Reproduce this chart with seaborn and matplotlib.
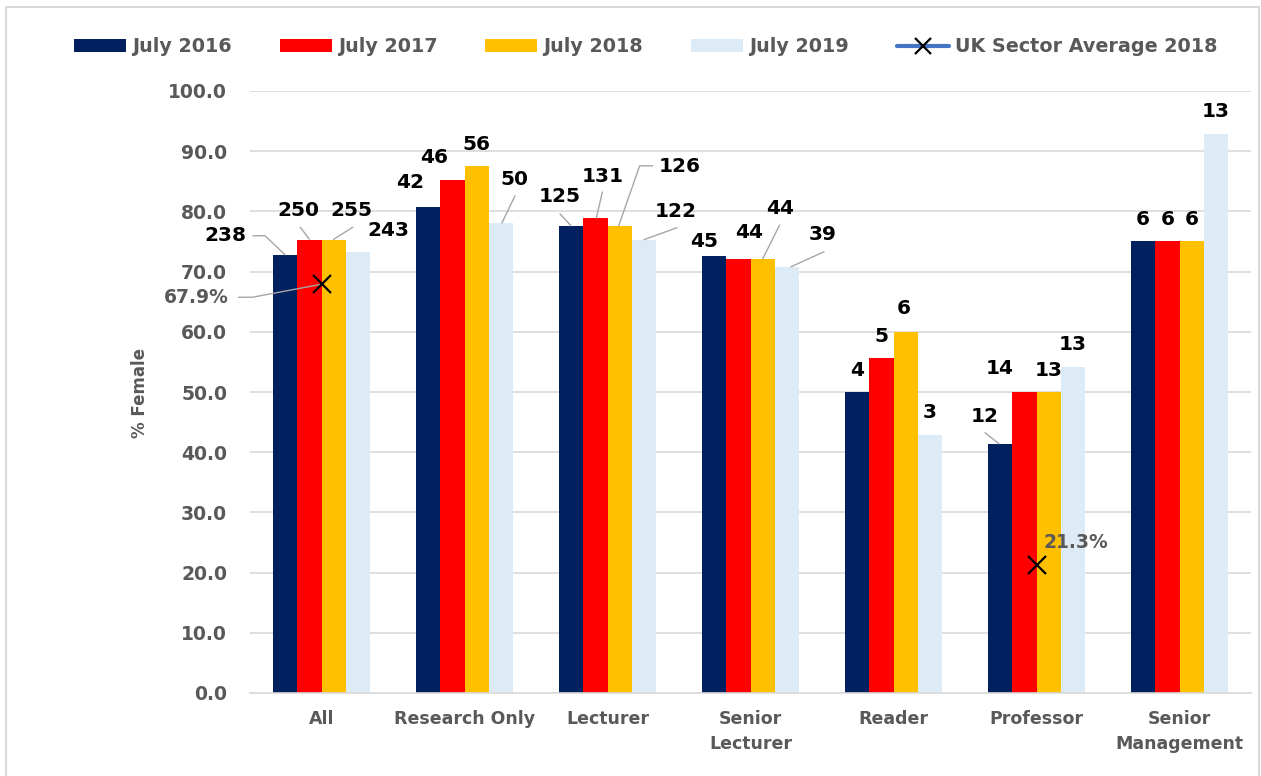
import numpy as np
import pandas as pd
import matplotlib
matplotlib.use("Agg")
import matplotlib.pyplot as plt
from matplotlib.patches import Patch, Rectangle
from matplotlib.lines import Line2D
from matplotlib.ticker import FormatStrFormatter
import seaborn as sns

# ---- data -------------------------------------------------------------
categories = ["All", "Research Only", "Lecturer", "Senior\nLecturer",
              "Reader", "Professor", "Senior\nManagement"]
periods = ["July 2016", "July 2017", "July 2018", "July 2019"]

pct_2016 = [72.8, 80.8, 77.6, 72.6, 50.0, 41.4, 75.0]
pct_2017 = [75.2, 85.2, 78.9, 72.1, 55.6, 50.0, 75.0]
pct_2018 = [75.2, 87.5, 77.6, 72.1, 60.0, 50.0, 75.0]
pct_2019 = [73.3, 78.1, 75.3, 70.8, 42.9, 54.2, 92.9]

count_2016 = [238, 42, 125, 45, 4, 12, 6]
count_2017 = [250, 46, 131, 44, 5, 14, 6]
count_2018 = [255, 56, 126, 44, 6, 13, 6]
count_2019 = [243, 50, 122, 39, 3, 13, 13]

uk_avg_label = "UK Sector Average 2018"
uk_avg_2018 = [67.9, np.nan, np.nan, np.nan, np.nan, 21.3, np.nan]

colors = ["#002060", "#FF0000", "#FFC000", "#DDEBF7"]

pct_series = [pct_2016, pct_2017, pct_2018, pct_2019]
count_series = [count_2016, count_2017, count_2018, count_2019]

df = pd.DataFrame({
    "category": categories * len(periods),
    "period": [p for p in periods for _ in categories],
    "pct": [v for s in pct_series for v in s],
})

# ---- label placement (pixel offsets from each bar top, up is positive) --
DEFAULT_OFF = (0, 22)
label_offsets = {
    (0, 0): (-60, 19), (0, 1): (-11, 30), (0, 2): (18, 30), (0, 3): (30, 21),
    (1, 0): (-18, 24), (1, 1): (-18, 23), (1, 2): (0, 22), (1, 3): (13, 43),
    (2, 0): (-11, 29), (2, 1): (7, 42), (2, 2): (60, 59), (2, 3): (32, 28),
    (3, 0): (-10, 14), (3, 1): (11, 26), (3, 2): (17, 50), (3, 3): (36, 32),
    (4, 2): (-2, 23),
    (5, 0): (-15, 27), (5, 1): (-25, 24),
}
leader_paths = {
    (0, 0): [(-32, 19), (-20, 19), (0, 0)],
    (0, 1): [(-9, 13), (0, 1)],
    (0, 2): [(19, 13), (0, 1)],
    (1, 3): [(14, 27), (1, 0)],
    (2, 0): [(-11, 12), (0, 0)],
    (2, 1): [(7, 26), (1, 0)],
    (2, 2): [(33, 60), (20, 60), (-1, 0)],
    (2, 3): [(33, 12), (0, 0)],
    (3, 2): [(17, 34), (0, 0)],
    (3, 3): [(37, 15), (4, 0)],
    (5, 0): [(-15, 11), (-1, 0)],
}

# ---- figure -------------------------------------------------------------
sns.set_theme(style="white")
plt.rcParams["font.family"] = ["DejaVu Sans"]

W, H = 1261, 776
fig = plt.figure(figsize=(W / 100, H / 100), dpi=100)
fig.patch.set_facecolor("white")
ax = fig.add_axes([250 / W, 1 - 693 / H, 1001 / W, 602 / H])

sns.barplot(data=df, x="category", y="pct", hue="period",
            order=categories, hue_order=periods, palette=colors,
            saturation=1, width=0.68, errorbar=None, legend=False,
            linewidth=0, ax=ax)

ax.set_xlim(-0.5, len(categories) - 0.5)
ax.set_ylim(0, 100)
ax.set_yticks(np.arange(0, 101, 10))
ax.yaxis.set_major_formatter(FormatStrFormatter("%.1f"))
ax.yaxis.grid(True, color="#D9D9D9", lw=1.2)
ax.set_axisbelow(True)
for side in ("top", "right", "left"):
    ax.spines[side].set_visible(False)
ax.spines["bottom"].set_color("#D9D9D9")
ax.spines["bottom"].set_linewidth(1.2)
ax.tick_params(axis="y", length=0, pad=16.5, labelsize=13.5,
               labelcolor="#595959")
ax.tick_params(axis="x", length=0, pad=12, labelsize=12.5,
               labelcolor="#595959")
for t in ax.get_yticklabels() + ax.get_xticklabels():
    t.set_fontweight("bold")
for t in ax.get_xticklabels():
    t.set_linespacing(1.5)
ax.set_xlabel("")
ax.set_ylabel("")
fig.text(140 / W, 1 - 393 / H, "% Female", rotation=90, ha="center",
         va="center", fontsize=12, fontweight="bold", color="#595959")

# UK sector average markers (no connecting line)
cat_pos = np.arange(len(categories))
ax.plot(cat_pos, uk_avg_2018, linestyle="none", marker="x",
        markersize=13.5, markeredgewidth=1.6, color="black", zorder=5)


def leader(x, y, pts):
    base = ax.transData.transform((x, y))
    disp = np.array([[base[0] + dx, base[1] + dy] for dx, dy in pts])
    data = ax.transData.inverted().transform(disp)
    ax.plot(data[:, 0], data[:, 1], color="#A6A6A6", lw=1, zorder=4,
            clip_on=False)


# count labels above each bar
for j, container in enumerate(ax.containers):
    for i, rect in enumerate(container):
        bx = rect.get_x() + rect.get_width() / 2
        by = rect.get_height()
        dx, dy = label_offsets.get((i, j), DEFAULT_OFF)
        ax.annotate(str(count_series[j][i]), xy=(bx, by), xytext=(dx, dy),
                    textcoords="offset pixels", ha="center", va="center",
                    fontsize=14.5, fontweight="bold", color="black",
                    zorder=6, annotation_clip=False)
        if (i, j) in leader_paths:
            leader(bx, by, leader_paths[(i, j)])

# sector average labels
avg_offsets = {0: (-125, -13), 5: (39, 22)}
avg_leaders = {0: [(-83, -13), (-69, -13), (0, 0)]}
for i, v in enumerate(uk_avg_2018):
    if np.isnan(v):
        continue
    dx, dy = avg_offsets[i]
    ax.annotate(f"{v:.1f}%", xy=(i, v), xytext=(dx, dy),
                textcoords="offset pixels", ha="center", va="center",
                fontsize=13.5, fontweight="bold", color="#595959", zorder=6,
                annotation_clip=False)
    if i in avg_leaders:
        leader(i, v, avg_leaders[i])

# legend
handles = [Patch(facecolor=c, edgecolor="none") for c in colors]
handles.append(Line2D([], [], color="#4472C4", lw=3, marker="x",
                      markersize=11, markeredgewidth=1.6,
                      markeredgecolor="black"))
leg = fig.legend(handles, periods + [uk_avg_label], loc="center",
                 bbox_to_anchor=(0.512, 1 - 47 / H), ncol=5, frameon=False,
                 prop={"size": 13.8, "weight": "bold"},
                 handlelength=2.72, handleheight=0.63, handletextpad=0.31,
                 columnspacing=2.5, labelcolor="#595959")

# light outer frame
fig.patches.append(Rectangle((6 / W, -0.02), (1259 - 6) / W, 1 - 7 / H + 0.02,
                             transform=fig.transFigure, fill=False,
                             edgecolor="#D9D9D9", lw=1.5))

fig.savefig("out.png", dpi=100)
